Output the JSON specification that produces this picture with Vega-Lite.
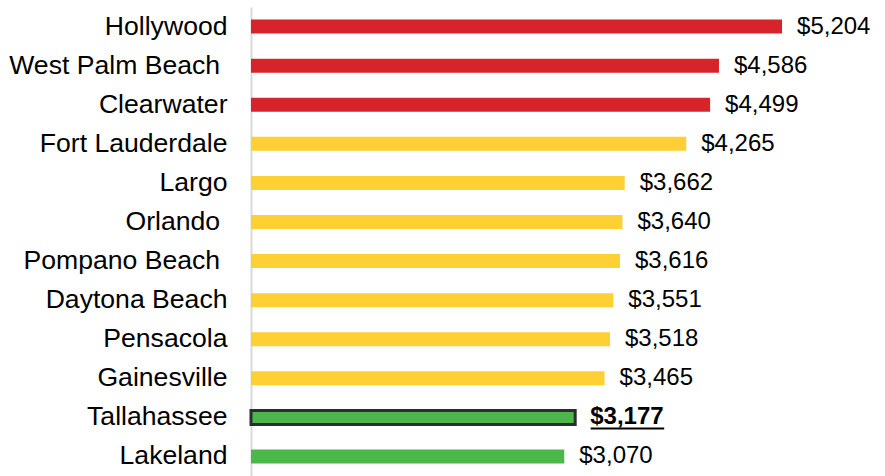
{
  "$schema": "https://vega.github.io/schema/vega-lite/v6.json",
  "autosize": {"type": "none"},
  "padding": {"left": 251, "top": 7, "right": 0, "bottom": 0},
  "width": 634,
  "height": 469,
  "background": "white",
  "config": {"view": {"stroke": null}, "font": "Liberation Sans"},
  "data": {
    "values": [
      {"city": "Hollywood", "value": 5204, "group": "high"},
      {"city": "West Palm Beach\u00a0\u200b", "value": 4586, "group": "high"},
      {"city": "Clearwater", "value": 4499, "group": "high"},
      {"city": "Fort Lauderdale", "value": 4265, "group": "mid"},
      {"city": "Largo", "value": 3662, "group": "mid"},
      {"city": "Orlando\u00a0\u200b", "value": 3640, "group": "mid"},
      {"city": "Pompano Beach\u00a0\u200b", "value": 3616, "group": "mid"},
      {"city": "Daytona Beach", "value": 3551, "group": "mid"},
      {"city": "Pensacola", "value": 3518, "group": "mid"},
      {"city": "Gainesville", "value": 3465, "group": "mid"},
      {"city": "Tallahassee", "value": 3177, "group": "low"},
      {"city": "Lakeland", "value": 3070, "group": "low"}
    ]
  },
  "encoding": {
    "y": {
      "field": "city",
      "type": "nominal",
      "sort": null,
      "scale": {"paddingInner": 0, "paddingOuter": 0},
      "axis": {
        "title": null,
        "ticks": false,
        "labelPadding": 24,
        "labelFontSize": 26.6,
        "labelLimit": 0,
        "labelColor": "#000000",
        "labelFont": "Liberation Sans",
        "domainColor": "#d9d9d9",
        "domainWidth": 2,
        "grid": false
      }
    },
    "x": {
      "field": "value",
      "type": "quantitative",
      "scale": {"domain": [0, 6213], "nice": false, "zero": true},
      "axis": null
    }
  },
  "layer": [
    {
      "mark": {"type": "bar", "size": 14},
      "encoding": {
        "color": {
          "field": "group",
          "type": "nominal",
          "scale": {"domain": ["high", "mid", "low"], "range": ["#D7242A", "#FFD033", "#4BB849"]},
          "legend": null
        },
        "stroke": {
          "condition": {"test": "datum.city === 'Tallahassee'", "value": "#2A2E33"},
          "value": null
        },
        "strokeWidth": {
          "condition": {"test": "datum.city === 'Tallahassee'", "value": 3},
          "value": 0
        }
      }
    },
    {
      "transform": [{"filter": "datum.city !== 'Tallahassee'"}],
      "mark": {"type": "text", "align": "left", "baseline": "middle", "dx": 15, "fontSize": 24, "color": "#000000", "font": "Liberation Sans"},
      "encoding": {
        "text": {"field": "value", "type": "quantitative", "format": "$,.0f"}
      }
    },
    {
      "transform": [{"filter": "datum.city === 'Tallahassee'"}],
      "mark": {"type": "text", "align": "left", "baseline": "middle", "dx": 15, "fontSize": 24, "fontWeight": "bold", "color": "#000000", "font": "Liberation Sans"},
      "encoding": {
        "text": {"field": "value", "type": "quantitative", "format": "$,.0f"}
      }
    },
    {
      "transform": [{"filter": "datum.city === 'Tallahassee'"}],
      "mark": {"type": "rule", "color": "#000000", "strokeWidth": 2, "xOffset": 15.5, "x2Offset": 89, "yOffset": 11},
      "encoding": {
        "x2": {"field": "value"}
      }
    }
  ]
}
